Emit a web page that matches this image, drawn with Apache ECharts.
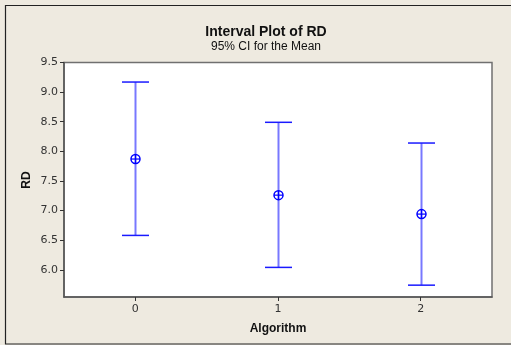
<!DOCTYPE html>
<html>
<head>
<meta charset="utf-8">
<script src="https://cdn.jsdelivr.net/npm/echarts@6/dist/echarts.min.js"></script>
<style>
  html, body { margin: 0; padding: 0; background: #eeeae0; }
  #graph { width: 511px; height: 345px; }
</style>
</head>
<body>
<div id="graph"></div>
<script>
// groups on the x axis
var algorithms = ['0', '1', '2'];
// 95% CI bounds and means of RD
var lower = [6.58, 6.04, 5.74];
var means = [7.87, 7.26, 6.94];
var upper = [9.17, 8.49, 8.14];
var yTicks = [6.0, 6.5, 7.0, 7.5, 8.0, 8.5, 9.0, 9.5];

var mychart = echarts.init(document.getElementById('graph'));

var intervalData = [];
for (var i = 0; i < algorithms.length; i++) {
  intervalData.push([i, lower[i], means[i], upper[i]]);
}

function renderInterval(params, api) {
  var x = api.value(0);
  var lo = api.coord([x, api.value(1)]);
  var mid = api.coord([x, api.value(2)]);
  var hi = api.coord([x, api.value(3)]);
  var cx = Math.round(lo[0]) + 0.5;
  var capW = 13.5;
  var r = 4.5;
  return {
    type: 'group',
    children: [
      {type: 'line', shape: {x1: cx, y1: hi[1], x2: cx, y2: lo[1]},
        style: {stroke: '#7878ff', lineWidth: 2}},
      {type: 'line', shape: {x1: cx - capW, y1: hi[1], x2: cx + capW, y2: hi[1]},
        style: {stroke: '#1a1aff', lineWidth: 1.5}},
      {type: 'line', shape: {x1: cx - capW, y1: lo[1], x2: cx + capW, y2: lo[1]},
        style: {stroke: '#1a1aff', lineWidth: 1.5}},
      {type: 'circle', shape: {cx: cx, cy: mid[1], r: r},
        style: {fill: 'none', stroke: '#0000ff', lineWidth: 1.5}},
      {type: 'line', shape: {x1: cx - r, y1: mid[1], x2: cx + r, y2: mid[1]},
        style: {stroke: '#0000ff', lineWidth: 1.2}},
      {type: 'line', shape: {x1: cx, y1: mid[1] - r, x2: cx, y2: mid[1] + r},
        style: {stroke: '#0000ff', lineWidth: 1.2}}
    ]
  };
}

mychart.setOption({
  backgroundColor: '#eeeae0',
  animation: false,
  title: {
    text: 'Interval Plot of RD',
    subtext: '95% CI for the Mean',
    left: 261,
    textAlign: 'center',
    top: 20,
    itemGap: 2,
    textStyle: {fontFamily: 'Liberation Sans', fontSize: 14, fontWeight: 'bold', color: '#111'},
    subtextStyle: {fontFamily: 'Liberation Sans', fontSize: 12, color: '#111'}
  },
  graphic: [
    {type: 'polyline', shape: {points: [[511, 5.5], [5.5, 5.5], [5.5, 344], [511, 344]]},
      style: {stroke: '#222', fill: 'none', lineWidth: 1.2}, silent: true},
    // y axis title
    {type: 'text', x: 27, y: 180, rotation: Math.PI / 2, silent: true,
      style: {text: 'RD', align: 'center', verticalAlign: 'middle',
        font: 'bold 12px "Liberation Sans"', fill: '#111'}}
  ],
  grid: {
    left: 64, top: 62.5, right: 19, bottom: 48,
    show: true, backgroundColor: '#fff', borderColor: '#707070', borderWidth: 1.5,
    outerBoundsMode: 'none'
  },
  xAxis: {
    type: 'category',
    data: algorithms,
    boundaryGap: true,
    name: 'Algorithm',
    nameLocation: 'middle',
    nameGap: 26,
    nameTextStyle: {fontFamily: 'Liberation Sans', fontSize: 12, fontWeight: 'bold', color: '#111'},
    axisLine: {show: true, lineStyle: {color: '#555', width: 1.5}},
    axisTick: {show: true, alignWithLabel: true, length: 4, lineStyle: {color: '#333'}},
    axisLabel: {fontFamily: 'DejaVu Sans', fontSize: 11, color: '#333', margin: 7},
    splitLine: {show: false}
  },
  yAxis: {
    type: 'value',
    min: 5.54,
    max: 9.5,
    axisLine: {show: true, lineStyle: {color: '#555', width: 1.5}},
    axisTick: {show: true, length: 4, customValues: yTicks, lineStyle: {color: '#333'}},
    axisLabel: {
      fontFamily: 'DejaVu Sans', fontSize: 11, color: '#333', margin: 6,
      customValues: yTicks,
      formatter: function (v) { return v.toFixed(1); }
    },
    splitLine: {show: false}
  },
  series: [
    {
      type: 'custom',
      renderItem: renderInterval,
      encode: {x: 0, y: [1, 2, 3]},
      data: intervalData,
      clip: false
    }
  ]
});
</script>
</body>
</html>
